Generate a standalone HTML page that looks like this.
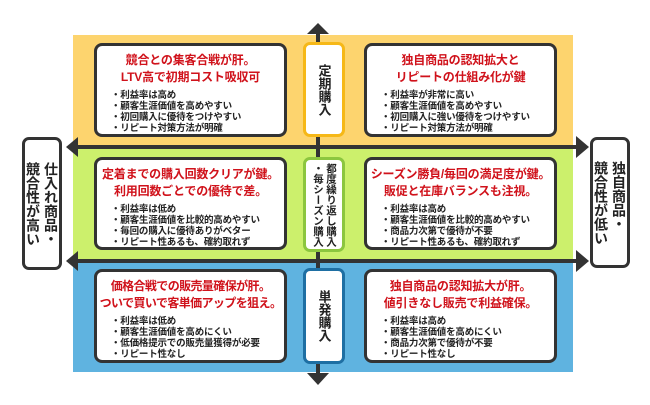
<!DOCTYPE html>
<html><head><meta charset="utf-8"><style>
body{margin:0;width:650px;height:405px;background:#fff;position:relative;overflow:hidden;font-family:"Liberation Sans","Noto Sans CJK JP",sans-serif;}
.a{position:absolute;box-sizing:border-box;}
.q{background:#fff;border:3px solid #333;border-radius:8px;padding-top:6px;}
.t{color:#d0121b;font-weight:bold;font-size:12px;line-height:17px;text-align:center;white-space:nowrap;letter-spacing:-0.2px;}
.l{font-size:9.5px;font-weight:bold;color:#222;line-height:11px;margin-top:4px;white-space:nowrap;letter-spacing:-0.2px;}
.v{background:#fff;border-radius:7px;writing-mode:vertical-rl;font-weight:bold;color:#222;display:flex;align-items:center;justify-content:center;white-space:nowrap;}
</style></head><body>
<div class="a" style="left:73px;top:35px;width:500px;height:113px;background:#fdd46e"></div>
<div class="a" style="left:73px;top:148px;width:500px;height:113px;background:#ccf06c"></div>
<div class="a" style="left:73px;top:261px;width:500px;height:111px;background:#5fb3e0"></div>
<svg class="a" style="left:0;top:0" width="650" height="405">
<g fill="#333" stroke="#333">
<line x1="318" y1="30" x2="318" y2="378" stroke-width="4"/>
<polygon points="307,34 318,23 329,34" stroke="none"/>
<polygon points="307,373 318,385 329,373" stroke="none"/>
<line x1="72" y1="147" x2="578" y2="147" stroke-width="4"/>
<line x1="72" y1="261" x2="578" y2="261" stroke-width="4"/>
<polygon points="78,137 66,147 78,157" stroke="none"/>
<polygon points="78,251 66,261 78,271" stroke="none"/>
<polygon points="576,136 589,147 576,158" stroke="none"/>
<polygon points="576,250 589,261 576,272" stroke="none"/>
</g></svg>
<div class="a v" style="left:22px;top:137px;width:40px;height:133px;border:3px solid #333;font-size:14px;line-height:18px;">仕入れ商品・<br>競合性が高い</div>
<div class="a v" style="left:590px;top:137px;width:40px;height:131px;border:3px solid #333;font-size:14px;line-height:18px;">独自商品・<br>競合性が低い</div>
<div class="a v" style="left:303px;top:42px;width:42px;height:95px;border:3px solid #f6b817;font-size:13px;">定期購入</div>
<div class="a v" style="left:303px;top:157px;width:42px;height:95px;border:3px solid #8cc63f;font-size:10.5px;line-height:13px;">都度繰り返し購入<br>・毎シーズン購入</div>
<div class="a v" style="left:303px;top:268px;width:42px;height:96px;border:3px solid #1e6fa3;font-size:13px;">単発購入</div>

<div class="a q" style="left:94px;top:43px;width:193px;height:94px;">
<div class="t">競合との集客合戦が肝。<br>LTV高で初期コスト吸収可</div>
<div class="l" style="padding-left:14px">・利益率は高め<br>・顧客生涯価値を高めやすい<br>・初回購入に優待をつけやすい<br>・リピート対策方法が明確</div></div>
<div class="a q" style="left:364px;top:43px;width:193px;height:94px;">
<div class="t">独自商品の認知拡大と<br>リピートの仕組み化が鍵</div>
<div class="l" style="padding-left:14px">・利益率が非常に高い<br>・顧客生涯価値を高めやすい<br>・初回購入に強い優待をつけやすい<br>・リピート対策方法が明確</div></div>
<div class="a q" style="left:94px;top:157px;width:193px;height:93px;">
<div class="t">定着までの購入回数クリアが鍵。<br>利用回数ごとでの優待で差。</div>
<div class="l" style="padding-left:14px">・利益率は低め<br>・顧客生涯価値を比較的高めやすい<br>・毎回の購入に優待ありがベター<br>・リピート性あるも、確約取れず</div></div>
<div class="a q" style="left:364px;top:157px;width:193px;height:93px;">
<div class="t">シーズン勝負/毎回の満足度が鍵。<br>販促と在庫バランスも注視。</div>
<div class="l" style="padding-left:14px">・利益率は高め<br>・顧客生涯価値を比較的高めやすい<br>・商品力次第で優待が不要<br>・リピート性あるも、確約取れず</div></div>
<div class="a q" style="left:94px;top:269px;width:193px;height:94px;">
<div class="t" style="letter-spacing:-0.6px">価格合戦での販売量確保が肝。<br>ついで買いで客単価アップを狙え。</div>
<div class="l" style="padding-left:14px">・利益率は低め<br>・顧客生涯価値を高めにくい<br>・低価格提示での販売量獲得が必要<br>・リピート性なし</div></div>
<div class="a q" style="left:364px;top:269px;width:193px;height:94px;">
<div class="t">独自商品の認知拡大が肝。<br>値引きなし販売で利益確保。</div>
<div class="l" style="padding-left:14px">・利益率は高め<br>・顧客生涯価値を高めにくい<br>・商品力次第で優待が不要<br>・リピート性なし</div></div>
</body></html>
